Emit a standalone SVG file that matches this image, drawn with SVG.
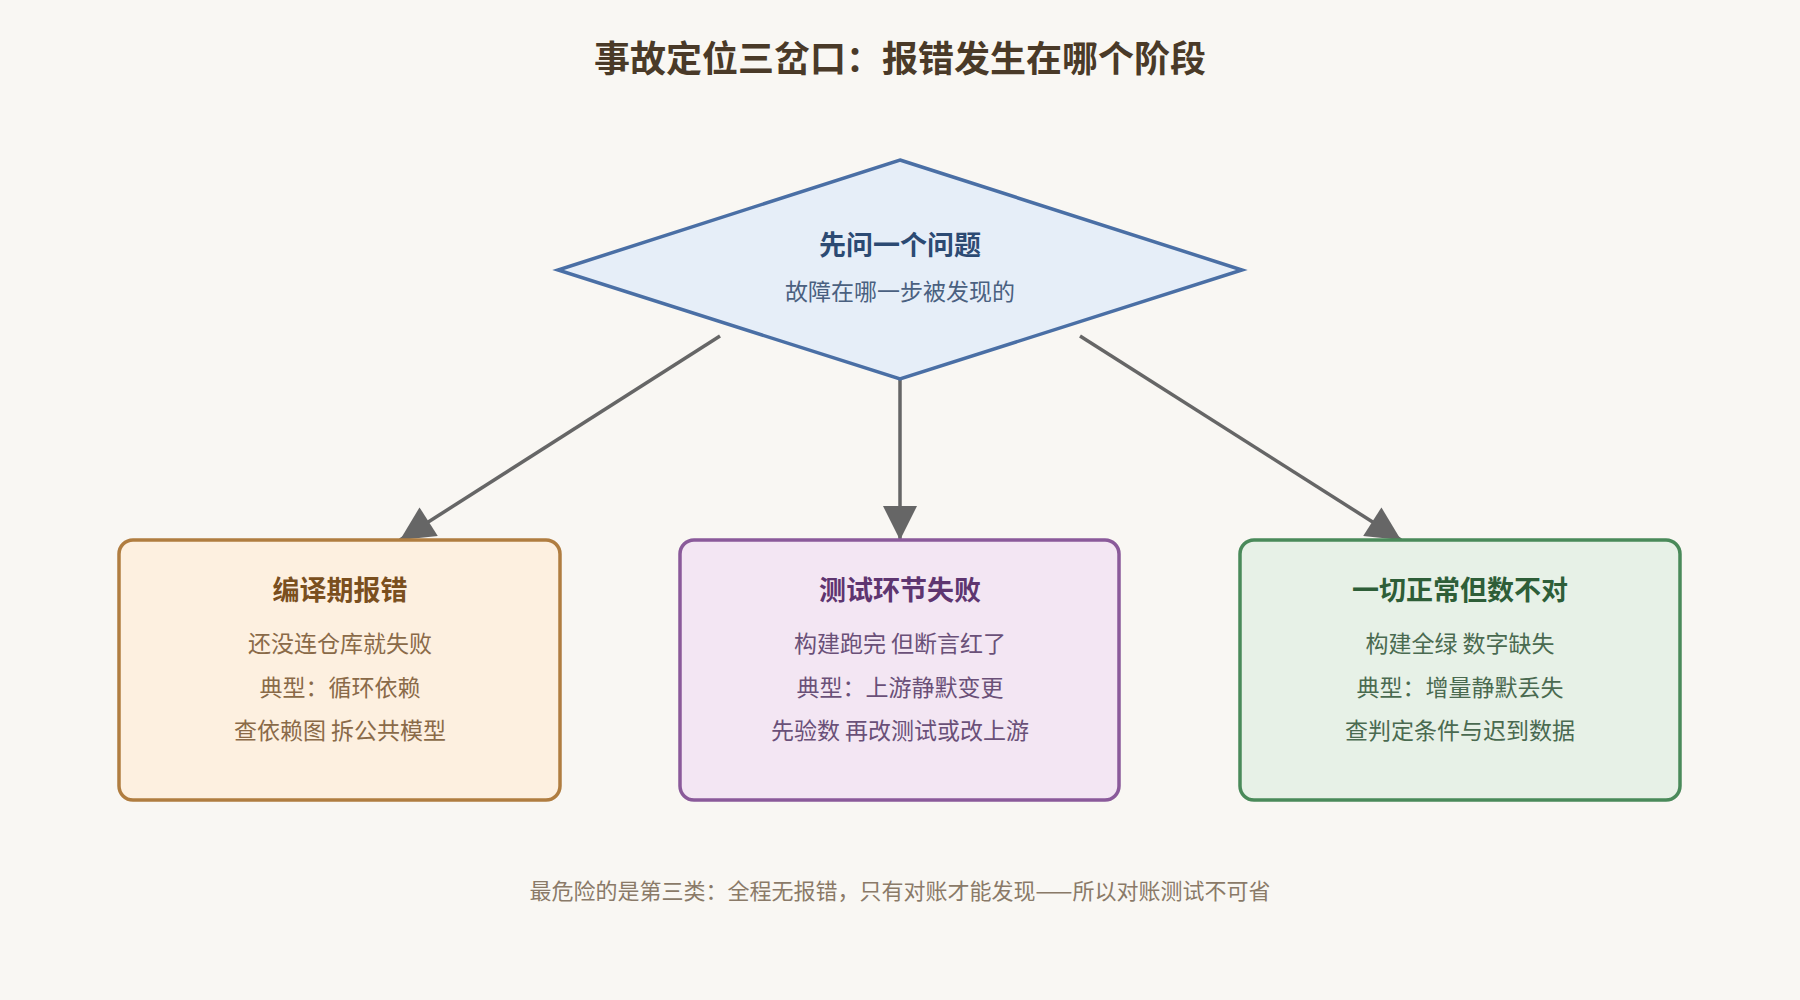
<svg xmlns="http://www.w3.org/2000/svg" width="1800" height="1000" viewBox="0 0 1800 1000">
<style>
text{font-family:"Noto Sans CJK SC","Noto Sans",sans-serif;text-anchor:middle}
.t{font-size:27px;font-weight:bold}
.l{font-size:23px}
.c{stroke:#666;stroke-width:3.5;fill:none}
</style>
<defs><marker id="a" viewBox="0 0 10 10" refX="9" refY="5" markerWidth="12" markerHeight="12" markerUnits="userSpaceOnUse" orient="auto"><path d="M0,0L10,5L0,10z" fill="#666"/></marker>
<marker id="ah" viewBox="0 0 10 10" refX="10" refY="5" markerWidth="38" markerHeight="34" markerUnits="userSpaceOnUse" orient="auto"><path d="M0,0L10,5L0,10z" fill="#666"/></marker></defs>
<rect width="1800" height="1000" fill="#f9f7f3"/>
<text x="900" y="72" font-size="36" font-weight="bold" fill="#4a3a28">事故定位三岔口：报错发生在哪个阶段</text>
<g id="connectors">
<line class="c" x1="720" y1="336" x2="400" y2="540" marker-end="url(#ah)"/>
<line class="c" x1="900" y1="379" x2="900" y2="540" marker-end="url(#ah)"/>
<line class="c" x1="1080" y1="336" x2="1401" y2="540" marker-end="url(#ah)"/>
</g>
<g id="decision">
<polygon points="900,160 1242,270 900,379 558,270" fill="#e6eef8" stroke="#4a6fa5" stroke-width="3.5"/>
<text x="900" y="255" class="t" fill="#2c4a73" font-size="26">先问一个问题</text>
<text x="900" y="300" class="l" fill="#4a6080">故障在哪一步被发现的</text>
</g>
<g id="compile">
<rect x="119" y="540" width="441" height="260" rx="14" fill="#fdf0e0" stroke="#b07d40" stroke-width="3.5"/>
<text x="340" y="600" class="t" fill="#7a4f1e">编译期报错</text>
<text x="340" y="652" class="l" fill="#8a6a48">还没连仓库就失败</text>
<text x="340" y="696" class="l" fill="#8a6a48">典型：循环依赖</text>
<text x="340" y="739" class="l" fill="#8a6a48">查依赖图 拆公共模型</text>
</g>
<g id="test">
<rect x="680" y="540" width="439" height="260" rx="14" fill="#f3e6f3" stroke="#8a5a9a" stroke-width="3.5"/>
<text x="900" y="600" class="t" fill="#5e3570">测试环节失败</text>
<text x="900" y="652" class="l" fill="#6a5078">构建跑完 但断言红了</text>
<text x="900" y="696" class="l" fill="#6a5078">典型：上游静默变更</text>
<text x="900" y="739" class="l" fill="#6a5078">先验数 再改测试或改上游</text>
</g>
<g id="silent">
<rect x="1240" y="540" width="440" height="260" rx="14" fill="#e7f1e7" stroke="#4a8a5a" stroke-width="3.5"/>
<text x="1460" y="600" class="t" fill="#2e5e38">一切正常但数不对</text>
<text x="1460" y="652" class="l" fill="#4a6a50">构建全绿 数字缺失</text>
<text x="1460" y="696" class="l" fill="#4a6a50">典型：增量静默丢失</text>
<text x="1460" y="739" class="l" fill="#4a6a50">查判定条件与迟到数据</text>
</g>
<text x="900" y="899" font-size="22" fill="#8a7a68">最危险的是第三类：全程无报错，只有对账才能发现——所以对账测试不可省</text>
</svg>
